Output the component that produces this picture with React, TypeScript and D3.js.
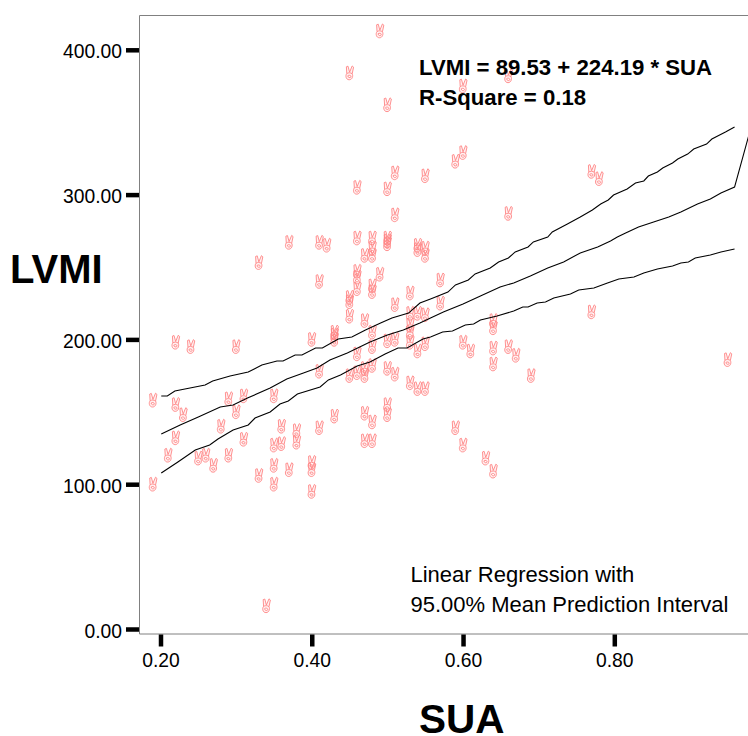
import React, { useEffect, useRef } from 'react';
import * as d3 from 'd3';

// SUA / LVMI cases
const sua = [
  0.19, 0.19, 0.21, 0.22, 0.22, 0.22, 0.23, 0.24, 0.25, 0.26, 0.27, 0.28, 0.29, 0.29, 0.30, 0.30, 0.31, 0.31,
  0.33, 0.33, 0.34, 0.35, 0.35, 0.35, 0.35, 0.36, 0.36, 0.37, 0.37, 0.38, 0.38, 0.40, 0.40, 0.40, 0.40,
  0.41, 0.41, 0.41, 0.41, 0.42, 0.43, 0.43, 0.43, 0.43, 0.45, 0.45, 0.45, 0.45, 0.45, 0.46, 0.46, 0.46, 0.46, 0.46, 0.46, 0.46,
  0.47, 0.47, 0.47, 0.47, 0.47, 0.47, 0.48, 0.48, 0.48, 0.48, 0.48, 0.48, 0.48, 0.48, 0.48, 0.48,
  0.49, 0.49, 0.50, 0.50, 0.50, 0.50, 0.50, 0.50, 0.50, 0.50, 0.50, 0.51, 0.51, 0.51, 0.51, 0.51,
  0.53, 0.53, 0.53, 0.53, 0.53, 0.53, 0.54, 0.54, 0.54, 0.54, 0.54, 0.55, 0.55, 0.55, 0.55, 0.55, 0.55,
  0.57, 0.57, 0.59, 0.59, 0.60, 0.60, 0.60, 0.60, 0.61, 0.63, 0.64, 0.64, 0.64, 0.64, 0.64,
  0.66, 0.66, 0.66, 0.67, 0.69, 0.77, 0.77, 0.78, 0.95,
];
const lvmi = [
  158, 100, 120, 198, 155, 132, 148, 195, 118, 120, 113, 140, 159, 120, 195, 150, 161, 131,
  253, 106, 16, 161, 127, 113, 100, 140, 128, 267, 110, 137, 129, 200, 115, 110, 95,
  267, 240, 178, 139, 265, 205, 203, 200, 147, 384, 229, 226, 216, 175, 305, 270, 247, 243, 235, 190, 177,
  258, 213, 180, 175, 149, 130, 270, 263, 258, 237, 233, 205, 195, 182, 143, 130,
  413, 245, 362, 304, 270, 268, 266, 199, 180, 155, 148, 315, 286, 224, 200, 176,
  232, 218, 210, 205, 198, 170, 265, 262, 218, 192, 166, 313, 263, 258, 217, 197, 166,
  241, 225, 323, 139, 375, 329, 198, 127, 192, 118, 213, 208, 194, 183, 109,
  382, 287, 195, 189, 175, 316, 219, 311, 186,
];

// interval curves as traced: [SUA, LVMI]
const upperBand: [number, number][] = [
  [0.201, 160.9], [0.209, 160.9], [0.219, 164.4], [0.239, 166.4], [0.259, 168.5], [0.269, 171.3], [0.292, 174.7],
  [0.316, 177.5], [0.334, 182.3], [0.354, 185.1], [0.362, 185.1], [0.378, 189.2], [0.387, 189.2], [0.405, 194.1],
  [0.414, 194.1], [0.435, 200.3], [0.453, 201.7], [0.471, 206.5], [0.491, 211.3], [0.506, 214.8], [0.528, 218.2],
  [0.543, 225.1], [0.557, 227.9], [0.58, 232.7], [0.59, 237.6], [0.607, 241.0], [0.616, 245.2], [0.636, 249.3],
  [0.647, 253.5], [0.66, 256.2], [0.669, 260.4], [0.686, 263.8], [0.693, 267.3], [0.712, 270.7], [0.718, 274.2],
  [0.738, 279.7], [0.755, 284.5], [0.771, 289.4], [0.782, 293.5], [0.792, 296.3], [0.799, 299.7], [0.817, 303.9],
  [0.828, 308.0], [0.839, 309.4], [0.845, 312.8], [0.857, 315.6], [0.864, 318.4], [0.877, 321.8], [0.884, 324.6],
  [0.897, 328.0], [0.905, 331.5], [0.922, 334.9], [0.929, 338.4], [0.947, 343.2], [0.959, 346.7],
];
const fitLine: [number, number][] = [
  [0.201, 134.7], [0.226, 140.9], [0.25, 146.4], [0.279, 153.3], [0.296, 154.7], [0.315, 159.5], [0.345, 166.4],
  [0.367, 172.7], [0.389, 176.8], [0.407, 180.2], [0.424, 185.8], [0.447, 190.6], [0.477, 198.2], [0.5, 203.0],
  [0.521, 206.5], [0.543, 211.3], [0.557, 214.8], [0.574, 218.9], [0.6, 224.4], [0.623, 230.0], [0.649, 236.2],
  [0.667, 239.0], [0.689, 243.8], [0.712, 249.3], [0.733, 253.5], [0.755, 259.7], [0.778, 263.8], [0.795, 268.0],
  [0.804, 270.7], [0.815, 273.5], [0.832, 277.6], [0.852, 281.1], [0.872, 284.5], [0.888, 288.0], [0.91, 293.5],
  [0.927, 297.0], [0.941, 301.1], [0.959, 305.2], [0.978, 341.2],
];
const lowerBand: [number, number][] = [
  [0.201, 107.7], [0.223, 115.3], [0.246, 123.6], [0.265, 127.1], [0.276, 131.2], [0.296, 137.4], [0.316, 140.9],
  [0.325, 145.7], [0.345, 149.9], [0.358, 155.4], [0.369, 157.5], [0.381, 162.3], [0.411, 167.1], [0.422, 172.0],
  [0.438, 175.4], [0.46, 181.6], [0.477, 184.4], [0.497, 189.9], [0.514, 194.1], [0.526, 194.1], [0.547, 200.3],
  [0.557, 201.7], [0.573, 205.1], [0.586, 205.8], [0.603, 209.9], [0.614, 210.6], [0.623, 213.4], [0.645, 216.2],
  [0.667, 219.6], [0.679, 222.4], [0.686, 222.4], [0.698, 225.1], [0.709, 225.8], [0.72, 228.6], [0.742, 231.4],
  [0.753, 234.1], [0.773, 235.5], [0.791, 239.0], [0.806, 241.7], [0.826, 243.1], [0.839, 245.9], [0.857, 248.6],
  [0.877, 250.7], [0.888, 252.8], [0.898, 253.5], [0.907, 256.2], [0.927, 258.3], [0.941, 260.4], [0.959, 262.4],
];

const xTicks = [0.2, 0.4, 0.6, 0.8];
const yTicks = [0, 100, 200, 300, 400];

const FONT = '"Liberation Sans", Arial, sans-serif';

// victory hand marker, centred on the case
const HAND =
  'M-2.8,0.6 L-3.2,-6.2 L-1.6,-6.8 L0,-0.8 L2.6,-7 L4,-5.8 L2.6,0.8 ' +
  'M-2.8,0.6 C-4.4,2.4 -3.8,6.8 -0.4,6.8 C2.8,6.8 3.8,2.8 2.6,0.8 C1.2,-0.4 -1.6,-0.4 -2.8,0.6 ' +
  'M-1.8,2.8 C-0.6,1.8 1.4,2.4 1.4,3.6 C1.4,5.2 -1.8,5 -1.8,2.8';

const App = () => {
  const svgRef = useRef<SVGSVGElement>(null);

  useEffect(() => {
    const svg = d3.select(svgRef.current);
    svg.selectAll('*').remove();

    const xScale = d3.scaleLinear().domain([0.2, 0.8]).range([160.5, 614.3]);
    const yScale = d3.scaleLinear().domain([0, 400]).range([629, 49.8]);

    // Frame (top and left, bottom runs off the page)
    svg.append('path')
      .attr('d', 'M748,15.5 H139.5 V634 H748')
      .attr('fill', 'none')
      .attr('stroke', '#808080')
      .attr('stroke-width', 1);

    // Axes
    const yAxis = d3.axisLeft(yScale)
      .tickValues(yTicks)
      .tickSize(13)
      .tickPadding(4)
      .tickFormat(d => (d as number).toFixed(2));
    const gy = svg.append('g').attr('transform', 'translate(139,0)').call(yAxis);

    const xAxis = d3.axisBottom(xScale)
      .tickValues(xTicks)
      .tickSize(12)
      .tickPadding(7)
      .tickFormat(d => (d as number).toFixed(2));
    const gx = svg.append('g').attr('transform', 'translate(0,634.5)').call(xAxis);

    [gx, gy].forEach(g => {
      g.select('.domain').remove();
      g.selectAll('line').attr('stroke', '#000').attr('stroke-width', 4.5);
      g.selectAll('text').attr('fill', '#000').style('font-family', FONT).style('font-size', '19.3px');
    });
    gy.selectAll('text').attr('dy', '0.42em');

    // Cases
    svg.append('g')
      .selectAll('path')
      .data(sua.map((s, i) => [s, lvmi[i]]))
      .enter()
      .append('path')
      .attr('transform', d => `translate(${xScale(d[0])},${yScale(d[1])})`)
      .attr('d', HAND)
      .attr('fill', 'rgba(255,120,120,0.1)')
      .attr('stroke', '#ff8484')
      .attr('stroke-width', 0.9);

    // Fit and interval lines
    const line = d3.line<[number, number]>()
      .x(d => xScale(d[0]))
      .y(d => yScale(d[1]));

    [upperBand, fitLine, lowerBand].forEach(band => {
      svg.append('path')
        .attr('d', line(band))
        .attr('fill', 'none')
        .attr('stroke', '#000')
        .attr('stroke-width', 1.1);
    });

    // Annotations
    const label = (t: string, x: number, y: number, size: number, weight: string) => {
      svg.append('text')
        .attr('x', x)
        .attr('y', y)
        .attr('fill', '#000')
        .style('font-family', FONT)
        .style('font-size', `${size}px`)
        .style('font-weight', weight)
        .text(t);
    };

    label('LVMI = 89.53 + 224.19 * SUA', 419, 75, 22.2, 'bold');
    label('R-Square = 0.18', 419, 105, 22.2, 'bold');
    label('Linear Regression with', 410.5, 582, 22, 'normal');
    label('95.00% Mean Prediction Interval', 410.5, 612, 22, 'normal');
    label('LVMI', 10, 283, 40, 'bold');
    label('SUA', 419, 733, 40.5, 'bold');
  }, []);

  return (
    <svg
      ref={svgRef}
      width={748}
      height={736}
      style={{ position: 'absolute', left: 0, top: 0, background: '#fff' }}
    />
  );
};

export default App;
